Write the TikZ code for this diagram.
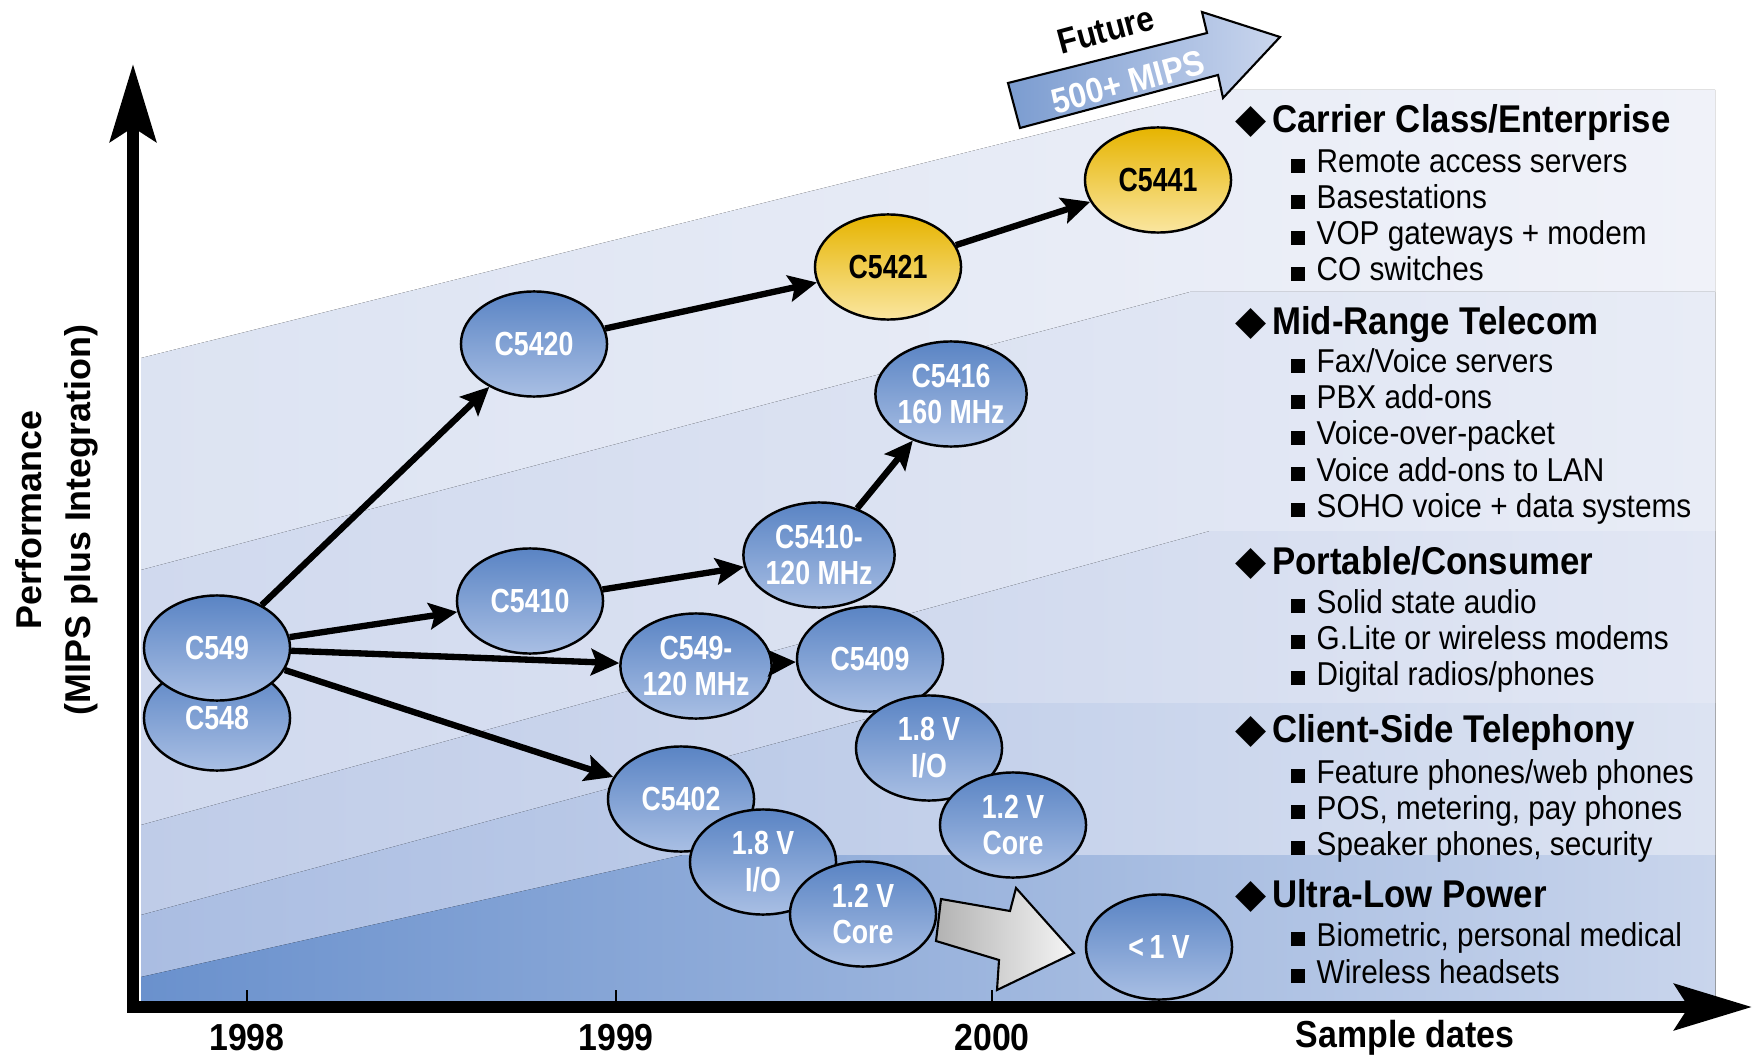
\documentclass[tikz,border=0pt]{standalone}
\usepackage{fontspec}
\setmainfont{Liberation Sans}
\newfontfamily\condfont[FakeStretch=0.9]{Liberation Sans}
\newfontfamily\chipfont[FakeStretch=0.8]{Liberation Sans}
\newfontfamily\symfont{DejaVu Sans}
\usetikzlibrary{shapes.geometric,arrows.meta}

\definecolor{chiptop}{HTML}{5A84C4}
\definecolor{chipbot}{HTML}{A9BFE4}
\definecolor{goldtop}{HTML}{E6B400}
\definecolor{goldbot}{HTML}{FAE6A0}
\definecolor{bandA}{HTML}{DCE3F2}
\definecolor{bandAr}{HTML}{F0F2F9}
\definecolor{bandB}{HTML}{D0D9EE}
\definecolor{bandBr}{HTML}{E8ECF6}
\definecolor{bandC}{HTML}{BFCCE8}
\definecolor{bandCr}{HTML}{E2E7F4}
\definecolor{bandD}{HTML}{AABDE2}
\definecolor{bandDr}{HTML}{DCE3F2}
\definecolor{bandE}{HTML}{6A91CD}
\definecolor{bandEr}{HTML}{C9D5EC}
\definecolor{futl}{HTML}{7B9CD0}
\definecolor{futr}{HTML}{CAD6EE}

\newcommand{\headmark}{{\symfont\fontsize{11.5}{12}\selectfont ◆}\hspace{1.5pt}}
\newcommand{\sqbullet}{\rule{4pt}{4pt}\hspace{3.4pt}}

\begin{document}
\begin{tikzpicture}[x=0.01cm,y=-0.01cm,
  chip/.style={ellipse, draw=black, line width=0.7pt, minimum width=1.46cm, minimum height=1.05cm,
    inner sep=0pt, top color=chiptop, bottom color=chipbot, text=white, align=center,
    font=\chipfont\bfseries\fontsize{9.5}{10.5}\selectfont},
  goldchip/.style={chip, top color=goldtop, bottom color=goldbot, text=black},
  flow/.style={line width=1.8pt, -{Stealth[length=8pt,width=7.5pt,inset=1.5pt]}},
  axis/.style={line width=3.3pt, line join=miter,
    {Stealth[length=22pt,width=13pt,inset=4pt]}-{Stealth[length=22pt,width=13pt,inset=4pt]}},
  head/.style={anchor=base west, inner sep=0pt, font=\condfont\bfseries\fontsize{11}{13}\selectfont},
  item/.style={anchor=base west, inner sep=0pt, font=\condfont\fontsize{9.4}{11}\selectfont},
  year/.style={inner sep=0pt, font=\condfont\bfseries\fontsize{10.7}{12}\selectfont}]

\useasboundingbox (0,0) rectangle (1752,1058);

\fill[left color=bandA, right color=bandAr] (141,1001) -- (141,358) -- (1217,90) -- (1715,90) -- (1715,1001) -- cycle;
\fill[left color=bandB, right color=bandBr] (141,1001) -- (141,570) -- (1190,292) -- (1715,292) -- (1715,1001) -- cycle;
\fill[left color=bandC, right color=bandCr] (141,1001) -- (141,825) -- (1210,531) -- (1715,531) -- (1715,1001) -- cycle;
\fill[left color=bandD, right color=bandDr] (141,1001) -- (141,915) -- (925,703) -- (1715,703) -- (1715,1001) -- cycle;
\fill[left color=bandE, right color=bandEr] (141,1001) -- (141,977) -- (683,855) -- (1715,855) -- (1715,1001) -- cycle;

\foreach \x in {247,616,992}
  \draw[line width=0.7pt] (\x,990) -- (\x,1004);

\coordinate (o) at (133,1007);
\coordinate (ytip) at (133,64);
\coordinate (xtip) at (1752,1007);
\draw[axis] (ytip) -- (o) -- (xtip);

\node[year] (y1998) at (247,1038) {1998};
\node[year] (y1999) at (616,1038) {1999};
\node[year] (y2000) at (992,1038) {2000};
\node[year] (xlabel) at (1405,1038) {Sample dates};
\node[rotate=90, align=center, inner sep=0pt, font=\bfseries\fontsize{10.2}{14}\selectfont] (ylabel) at (57,520)
  {Performance\\(MIPS plus Integration)};

\filldraw[draw=black, line width=0.6pt, left color=futl, right color=futr]
  (1008,83) -- (1207,33) -- (1202,12) -- (1280,37) -- (1223,98) -- (1218,75) -- (1020,128) -- cycle;
\node[rotate=15, inner sep=0pt, font=\condfont\bfseries\fontsize{10}{12}\selectfont] (futurelbl) at (1106,30) {Future};
\node[rotate=15, inner sep=0pt, text=white, font=\condfont\bfseries\fontsize{10}{12}\selectfont] (mipslbl) at (1128,82) {500+ MIPS};

\filldraw[draw=black, line width=0.6pt, left color=gray!60, right color=gray!8]
  (941,899) -- (1010,911) -- (1016,888) -- (1074,953) -- (997,990) -- (999,960) -- (936,941) -- cycle;

\node[chip] (c548) at (217,718) {C548};
\node[chip] (c549) at (217,648) {C549};
\node[chip] (c5420) at (534,344) {C5420};
\node[goldchip] (c5421) at (888,267) {C5421};
\node[goldchip] (c5441) at (1158,180) {C5441};
\node[chip] (c5410) at (530,601) {C5410};
\node[chip] (c5410f) at (819,555) {C5410-\\120 MHz};
\node[chip] (c5416) at (951,394) {C5416\\160 MHz};
\node[chip] (c549f) at (696,666) {C549-\\120 MHz};
\node[chip] (c5409) at (870,659) {C5409};
\node[chip] (io18a) at (929,748) {1.8 V\\I/O};
\node[chip] (core12a) at (1013,825) {1.2 V\\Core};
\node[chip] (c5402) at (681,799) {C5402};
\node[chip] (io18b) at (763,862) {1.8 V\\I/O};
\node[chip] (core12b) at (863,914) {1.2 V\\Core};
\node[chip] (lowv) at (1159,947) {<\,1 V};

\draw[flow] (c549) -- (c5420);
\draw[flow] (c5420) -- (c5421);
\draw[flow] (c5421) -- (c5441);
\draw[flow] (c549) -- (c5410);
\draw[flow] (c549) -- (c549f);
\draw[flow] (c549) -- (c5402);
\draw[flow] (c5410) -- (c5410f);
\draw[flow] (c5410f) -- (c5416);
\draw[flow] (c549f) -- (c5409);

\node[head] (carrier) at (1235,133) {\headmark Carrier Class/Enterprise};
\foreach \t [count=\i] in {Remote access servers, Basestations, VOP gateways + modem, CO switches}
  \node[item] (carrier\i) at (1290,{173+36*(\i-1)}) {\sqbullet\t};

\node[head] (midrange) at (1235,334) {\headmark Mid-Range Telecom};
\foreach \t [count=\i] in {Fax/Voice servers, PBX add-ons, Voice-over-packet, Voice add-ons to LAN, SOHO voice + data systems}
  \node[item] (midrange\i) at (1290,{373+36*(\i-1)}) {\sqbullet\t};

\node[head] (portable) at (1235,574) {\headmark Portable/Consumer};
\foreach \t [count=\i] in {Solid state audio, G.Lite or wireless modems, Digital radios/phones}
  \node[item] (portable\i) at (1290,{613+36*(\i-1)}) {\sqbullet\t};

\node[head] (client) at (1235,742) {\headmark Client-Side Telephony};
\foreach \t [count=\i] in {Feature phones/web phones, {POS, metering, pay phones}, {Speaker phones, security}}
  \node[item] (client\i) at (1290,{783+36*(\i-1)}) {\sqbullet\t};

\node[head] (ultralow) at (1235,907) {\headmark Ultra-Low Power};
\foreach \t [count=\i] in {{Biometric, personal medical}, Wireless headsets}
  \node[item] (ultralow\i) at (1290,{946+37*(\i-1)}) {\sqbullet\t};
\end{tikzpicture}
\end{document}
